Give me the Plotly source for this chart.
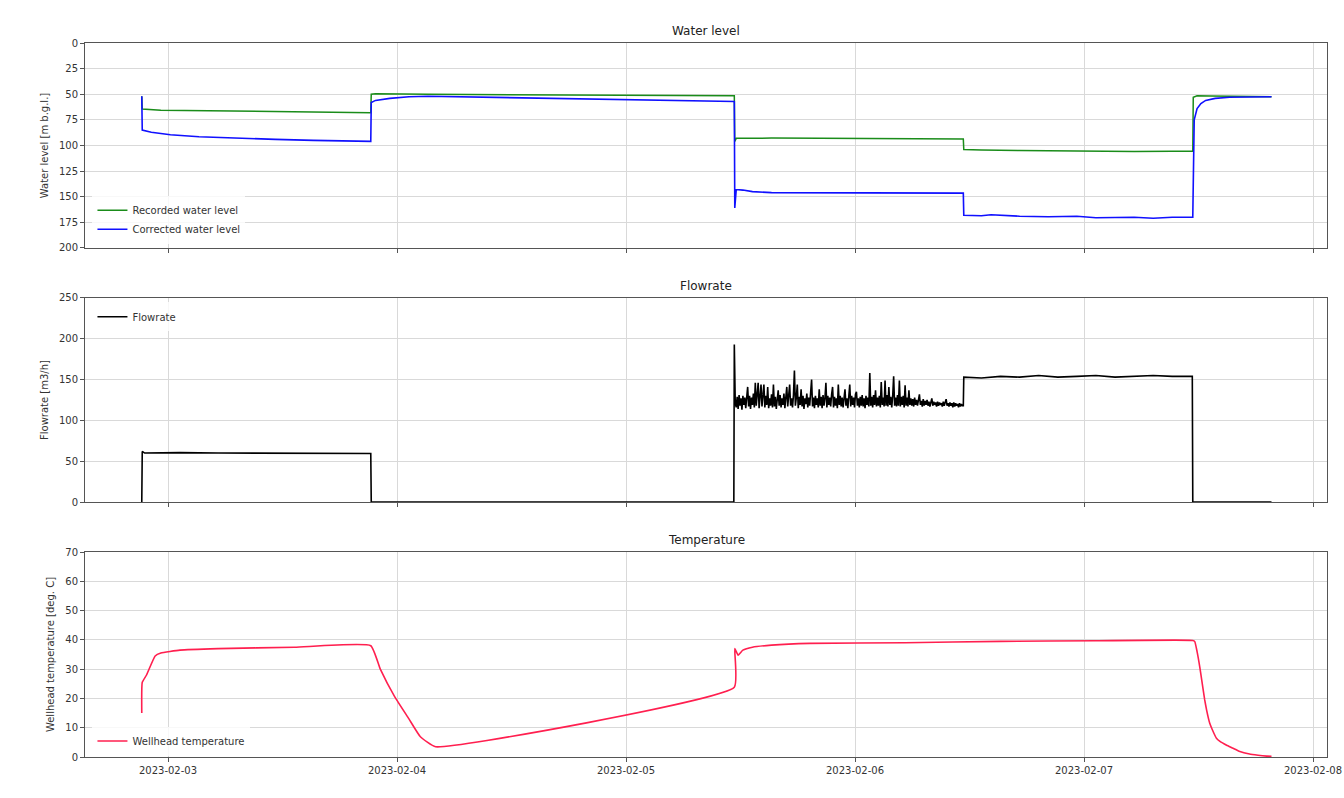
import pandas as pd
import plotly.graph_objects as go
from plotly.subplots import make_subplots

# ---------------- data (hours after test start) ----------------
start_time = "2023-02-02 21:15"

wl_rec_hours = [0, 0.05, 2, 6, 12, 18, 24, 24.05, 24.5, 30, 40, 50, 62.1, 62.15, 62.3, 66, 72, 78, 84, 86.1,
                86.15, 88, 92, 96, 100, 104, 108, 110.15, 110.2, 110.6, 112, 115, 118.4]
wl_rec_vals = [52, 64.5, 65.5, 66, 66.8, 67.5, 68, 50, 49.5, 50, 50.5, 51, 51.5, 96, 93, 92.8, 93.2, 93.5, 93.6, 93.7,
               104, 104.5, 104.8, 105.3, 105.5, 105.8, 105.5, 105.5, 53, 51.5, 51.8, 52.2, 52.5]

wl_cor_hours = [0, 0.05, 1, 3, 6, 10, 14, 18, 24, 24.05, 24.5, 26, 28, 30, 40, 50, 62.1, 62.15, 62.3, 63, 64, 66, 70,
                75, 80, 86.1, 86.15, 88, 89, 90, 92, 95, 98, 100, 104, 106, 108, 110.15, 110.3, 110.6, 111, 111.5, 112.5,
                114, 116, 118.4]
wl_cor_vals = [52, 85, 87, 89.5, 91.5, 93, 94, 95, 96, 58, 56, 54, 52.5, 52, 53.5, 55, 57, 161, 143, 143.5, 145, 146,
               146, 146.5, 146.5, 146.5, 168, 168.5, 167.5, 168, 169, 169.5, 169, 170.5, 170, 171, 170, 170, 75, 64, 59,
               56, 54, 53, 52.6, 52.5]

flow_hours = [0, 0.05, 0.3, 4, 8, 12, 16, 20, 24, 24.05, 62.05, 62.1]
flow_vals = [0, 62, 60, 60.5, 60, 60, 59.5, 59.5, 59.5, 0, 0, 193]

# noisy pumping stage, logged every 6 min from 62.2 h to 86.0 h
flow_noise_first_hour = 62.2
flow_noise_step_hours = 0.1
flow_noise_vals = [
    121, 116, 129, 114, 131, 118, 127, 113, 130, 119,
    128, 115, 132, 141, 117, 130, 114, 128, 119, 133,
    116, 146, 118, 129, 146, 115, 131, 144, 117, 128,
    144, 116, 130, 119, 141, 115, 127, 118, 132, 116,
    144, 117, 129, 114, 128, 137, 118, 131, 116, 127,
    119, 133, 115, 128, 141, 117, 130, 144, 118, 127,
    116, 131, 161, 118, 128, 144, 115, 129, 119, 138,
    117, 130, 114, 127, 120, 133, 116, 128, 118, 131,
    150, 117, 128, 115, 130, 119, 127, 116, 138, 118,
    129, 115, 131, 118, 127, 146, 116, 130, 119, 128,
    117, 132, 141, 116, 129, 118, 127, 115, 144, 119,
    130, 117, 128, 116, 131, 138, 118, 127, 115, 129,
    144, 117, 130, 119, 128, 116, 132, 135, 118, 127,
    116, 129, 118, 131, 117, 127, 115, 130, 119, 128,
    117, 158, 118, 129, 116, 131, 119, 137, 117, 128,
    118, 130, 116, 147, 119, 128, 117, 149, 118, 131,
    117, 141, 119, 129, 116, 130, 154, 118, 128, 117,
    131, 118, 149, 117, 129, 119, 130, 116, 143, 118,
    128, 117, 137, 119, 127, 118, 126, 117, 128, 119,
    125, 118, 127, 132, 119, 124, 117, 126, 118, 124,
    119, 125, 118, 123, 117, 124, 127, 118, 123, 119,
    122, 117, 123, 118, 122, 119, 121, 117, 123, 118,
    122, 126, 118, 121, 117, 122, 118, 121, 116, 122,
    117, 121, 118, 120, 116, 121, 117, 120, 118,
]

flow_tail_hours = [86.1, 86.15, 88, 90, 92, 94, 96, 98, 100, 102, 104, 106, 108, 110.1, 110.15, 118.4]
flow_tail_vals = [118, 153, 152, 154, 153, 155, 153, 154, 155, 153, 154, 155, 154, 154, 0, 0]

temp_hours = [0, 0.05, 0.5, 1.4, 2, 4, 8, 16, 24, 25, 26.5, 28, 29.2, 30.8, 62.1, 62.15, 62.5, 63, 64, 66, 70, 80, 90,
              100, 110.15, 110.36, 110.6, 110.88, 111.1, 111.4, 111.6, 111.92, 112.2, 112.63, 113, 113.7, 114.37, 115,
              116.1, 117, 117.9, 118.4]
temp_vals = [15, 25.5, 28, 34.5, 35.5, 36.5, 37, 37.5, 38, 30, 20.6, 13, 6.9, 3.5, 23.8, 37, 34.8, 36.5, 37.5, 38.2,
             38.8, 39, 39.5, 39.7, 39.8, 39.4, 36, 30.8, 26, 19.5, 16, 11.6, 9.3, 6.4, 5.3, 4, 3.0, 2.0, 1.0, 0.6, 0.3,
             0.2]

x_tick_labels = ["2023-02-03", "2023-02-04", "2023-02-05", "2023-02-06", "2023-02-07", "2023-02-08"]

# ---------------- build ----------------
t0 = pd.Timestamp(start_time)


def to_time(hours):
    return [t0 + pd.Timedelta(hours=h) for h in hours]


noise_hours = [flow_noise_first_hour + i * flow_noise_step_hours for i in range(len(flow_noise_vals))]
flow_all_hours = flow_hours + noise_hours + flow_tail_hours
flow_all_vals = flow_vals + flow_noise_vals + flow_tail_vals

FONT = "DejaVu Sans"
fig = make_subplots(rows=3, cols=1, shared_xaxes=False, vertical_spacing=0.07)

fig.add_trace(go.Scatter(x=to_time(wl_rec_hours), y=wl_rec_vals, mode="lines", name="Recorded water level",
                         line=dict(color="#1a8c1a", width=1.5), legend="legend"), row=1, col=1)
fig.add_trace(go.Scatter(x=to_time(wl_cor_hours), y=wl_cor_vals, mode="lines", name="Corrected water level",
                         line=dict(color="#1010ff", width=1.6), legend="legend"), row=1, col=1)
fig.add_trace(go.Scatter(x=to_time(flow_all_hours), y=flow_all_vals, mode="lines", name="Flowrate",
                         line=dict(color="black", width=1.6), legend="legend2"), row=2, col=1)
fig.add_trace(go.Scatter(x=to_time(temp_hours), y=temp_vals, mode="lines", name="Wellhead temperature",
                         line=dict(color="#ff1f4f", width=1.6, shape="spline", smoothing=0.4), legend="legend3"),
              row=3, col=1)

xrange_ = ["2023-02-02 15:18", "2023-02-08 01:28"]
tickvals = [pd.Timestamp(s) for s in x_tick_labels]
domains = [[0.7129, 1.0], [0.3571, 0.6429], [0.0, 0.2871]]
axis_common = dict(showline=True, linecolor="#555555", linewidth=1, mirror=True, ticks="outside", ticklen=4,
                   tickcolor="#555555", showgrid=True, gridcolor="#d9d9d9", gridwidth=1, zeroline=False,
                   tickfont=dict(family=FONT, size=10, color="#333333"))
for i in range(3):
    fig.update_xaxes(range=xrange_, tickvals=tickvals, ticktext=x_tick_labels if i == 2 else [""] * 6,
                     row=i + 1, col=1, **axis_common)
    fig.update_yaxes(domain=domains[i], row=i + 1, col=1, **axis_common)

fig.update_yaxes(range=[200, 0], tickvals=[0, 25, 50, 75, 100, 125, 150, 175, 200],
                 title=dict(text="Water level [m b.g.l.]", font=dict(family=FONT, size=10, color="#333333"), standoff=8),
                 row=1, col=1)
fig.update_yaxes(range=[0, 250], tickvals=[0, 50, 100, 150, 200, 250],
                 title=dict(text="Flowrate [m3/h]", font=dict(family=FONT, size=10, color="#333333"), standoff=8),
                 row=2, col=1)
fig.update_yaxes(range=[0, 70], tickvals=[0, 10, 20, 30, 40, 50, 60, 70],
                 title=dict(text="Wellhead temperature [deg. C]", font=dict(family=FONT, size=10, color="#333333"),
                            standoff=8),
                 row=3, col=1)

titles = ["Water level", "Flowrate", "Temperature"]
for i, t in enumerate(titles):
    fig.add_annotation(text=t, xref="paper", yref="paper", x=0.5, y=domains[i][1], yanchor="bottom", yshift=3,
                       showarrow=False, font=dict(family=FONT, size=12, color="#222222"))

legend_common = dict(x=0.006, xanchor="left", bgcolor="rgba(255,255,255,0.8)", borderwidth=0,
                     font=dict(family=FONT, size=10, color="#333333"), itemwidth=30, tracegroupgap=0)
fig.update_layout(
    width=1344, height=798,
    margin=dict(l=85, r=17, t=43, b=41, autoexpand=False),
    paper_bgcolor="white", plot_bgcolor="white",
    legend=dict(y=domains[0][0] + 0.006, yanchor="bottom", **legend_common),
    legend2=dict(y=domains[1][1] - 0.006, yanchor="top", **legend_common),
    legend3=dict(y=domains[2][0] + 0.002, yanchor="bottom", **legend_common),
    showlegend=True,
)

fig.write_html("out.html", config={"displayModeBar": False},
               post_script="document.body.style.margin='0';document.documentElement.style.overflow='hidden';")
